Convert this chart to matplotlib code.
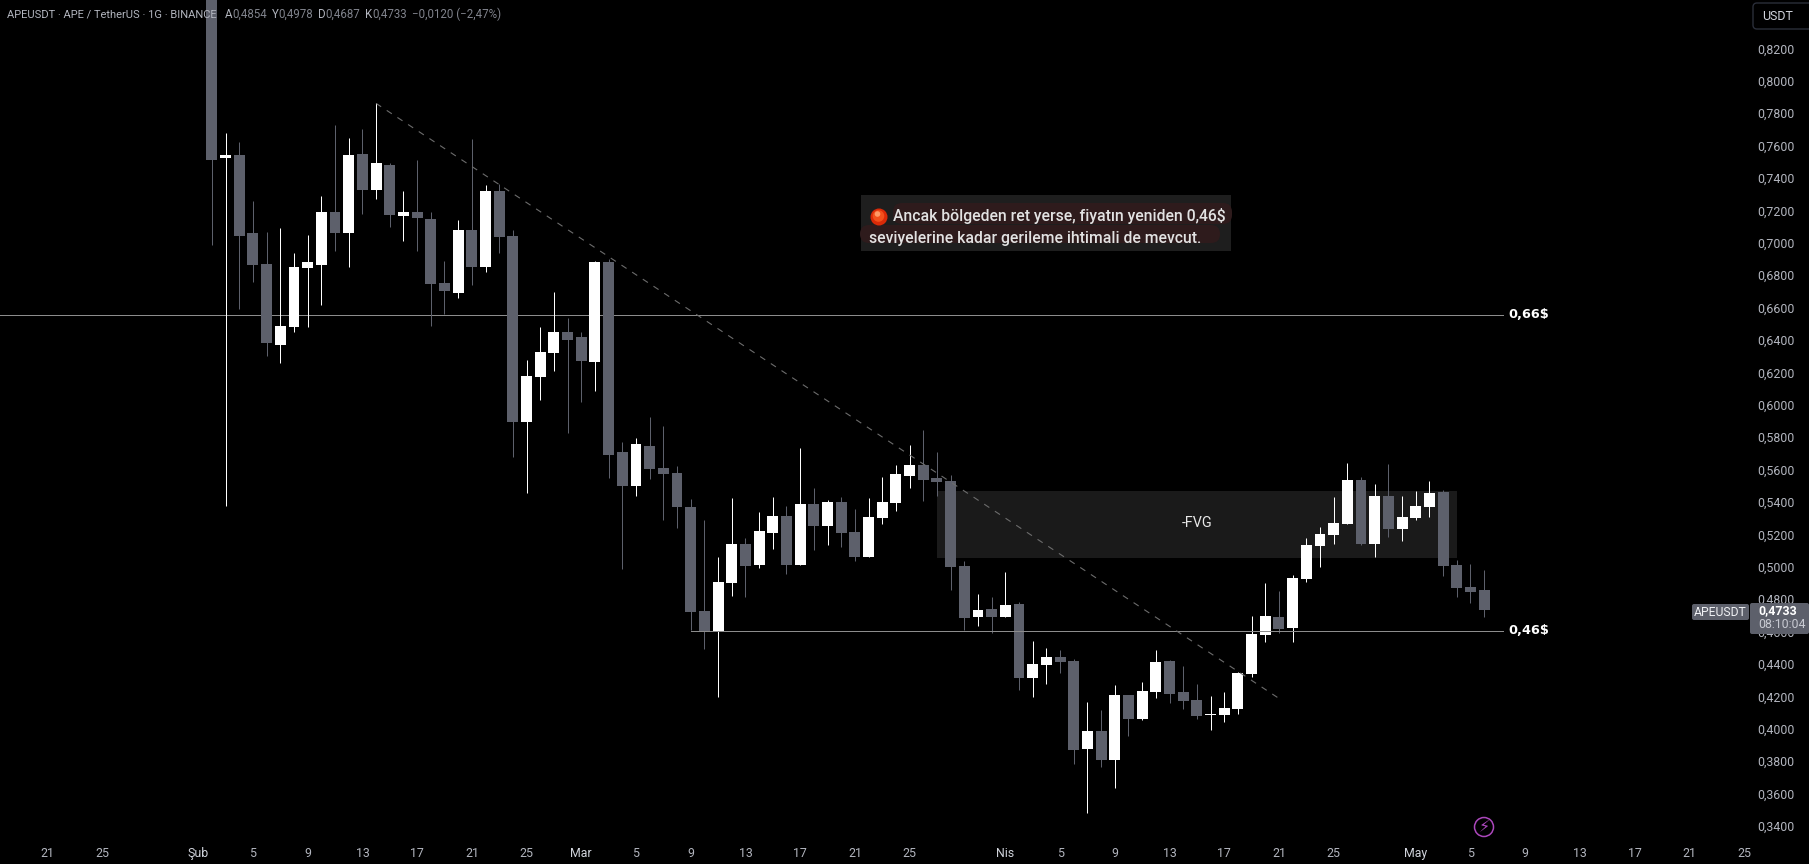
import matplotlib
matplotlib.use("Agg")
import matplotlib.pyplot as plt
from matplotlib.patches import Rectangle, FancyBboxPatch, Circle
from matplotlib.transforms import IdentityTransform, ScaledTranslation
import numpy as np

W, H = 1809, 864
plt.rcParams['font.family'] = ['Roboto', 'DejaVu Sans']

# Daily candles from 2 Feb onward (price, USDT)
opens = [0.8750,.7523,.7541,.7060,.6868,.6368,.6480,.6844,.6862,.7189,.7060,.7547,.7325,.7479,.7165,.7189,
         .7146,.6751,.6689,.7078,.6850,.7319,.7041,.5893,.6171,.6319,.6449,.6418,.6263,.6881,.5708,.5498,
         .5745,.5610,.5579,.5369,.4727,.4603,.4900,.5140,.5011,.5208,.5313,.5011,.5387,.5252,.5400,.5215,
         .5060,.5301,.5394,.5560,.5628,.5548,.5529,.5005,.4690,.4739,.4690,.4770,.4313,.4393,.4443,.4418,
         .3875,.3986,.3807,.4208,.4060,.4226,.4418,.4226,.4177,.4084,.4084,.4122,.4338,.4578,.4689,.4622,
         .4924,.5128,.5196,.5263,.5535,.5140,.5436,.5233,.5301,.5368,.5461,.5010,.4875,.4854]
highs = [0.8900,.7675,.7619,.7257,.7064,.7089,.6934,.7047,.7288,.7724,.7646,.7700,.7860,.7490,.7319,.7510,
         .7189,.6887,.7140,.7638,.7356,.7362,.7078,.6276,.6480,.6696,.6535,.6449,.6887,.6897,.5770,.5795,
         .5924,.5869,.5622,.5418,.5289,.5060,.5424,.5178,.5338,.5431,.5375,.5733,.5486,.5412,.5431,.5357,
         .5424,.5554,.5628,.5752,.5844,.5708,.5566,.5036,.4832,.4813,.4968,.4782,.4542,.4498,.4486,.4428,
         .4165,.4115,.4270,.4208,.4288,.4486,.4424,.4387,.4276,.4202,.4226,.4350,.4696,.4899,.4850,.4949,
         .5177,.5245,.5430,.5640,.5554,.5510,.5634,.5436,.5467,.5529,.5473,.5041,.5017,.4978]
lows =  [0.6986,.5377,.6591,.6757,.6300,.6257,.6449,.6480,.6615,.6949,.6850,.7177,.7270,.7097,.7010,.6949,
         .6486,.6560,.6659,.6739,.6819,.6936,.5677,.5455,.6029,.6208,.5825,.6017,.6084,.5547,.4986,.5437,
         .5542,.5289,.5239,.4610,.4492,.4196,.4819,.4813,.4992,.5110,.4955,.5011,.5103,.5134,.5122,.5036,
         .5060,.5264,.5344,.5486,.5406,.5437,.4857,.4610,.4634,.4591,.4690,.4239,.4196,.4276,.4344,.3782,
         .3480,.3764,.3634,.3955,.4054,.4189,.4159,.4122,.4060,.3992,.4041,.4091,.4319,.4535,.4591,.4535,
         .4905,.4998,.5140,.5263,.5134,.5060,.5183,.5159,.5288,.5307,.4942,.4813,.4776,.4687]
closes =[.7510,.7541,.7041,.6862,.6381,.6486,.6850,.6881,.7189,.7060,.7541,.7325,.7492,.7171,.7189,.7152,
         .6745,.6702,.7078,.6850,.7319,.7035,.5893,.6177,.6325,.6449,.6399,.6270,.6881,.5690,.5498,.5758,
         .5603,.5573,.5369,.4721,.4603,.4906,.5140,.5005,.5221,.5313,.5011,.5387,.5252,.5400,.5208,.5060,
         .5307,.5400,.5573,.5628,.5536,.5523,.4999,.4684,.4733,.4690,.4764,.4313,.4400,.4443,.4412,.3868,
         .3986,.3807,.4208,.4060,.4233,.4412,.4214,.4171,.4078,.4091,.4128,.4344,.4584,.4696,.4615,.4930,
         .5134,.5202,.5270,.5535,.5140,.5436,.5233,.5307,.5375,.5455,.5004,.4868,.4844,.4733]

x_tick_pos = [-12,-8,-1,3,7,11,15,19,23,27,31,35,39,43,47,51,58,62,66,70,74,78,82,88,92,96,100,104,108,112]
x_tick_lab = ['21','25','Şub','5','9','13','17','21','25','Mar','5','9','13','17','21','25','Nis','5','9','13',
              '17','21','25','May','5','9','13','17','21','25']
month_labels = ['Şub','Mar','Nis','May']
y_ticks = [.34,.36,.38,.40,.42,.44,.46,.48,.50,.52,.54,.56,.58,.60,.62,.64,.66,.68,.70,.72,.74,.76,.78,.80,.82]

level_high = 0.6552
level_low = 0.4601
fvg_top, fvg_bottom = 0.5467, 0.5054
fvg_start, fvg_end = 53, 91
trend_x = [12, 78]
trend_y = [0.7860, 0.4187]

UP, DOWN = '#ffffff', '#5d606b'
AXTXT = '#b2b5be'

def fx(p): return p / W
def fy(p): return 1 - p / H

fig = plt.figure(figsize=(W/100, H/100), dpi=100, facecolor='#000000')
R_PX, B_PX = 1750, 838
ax = fig.add_axes([0, fy(B_PX), fx(R_PX), 1 - fy(B_PX)], facecolor='#000000')

X0, DX = 211.9, 13.68
ax.set_xlim(-X0/DX, (R_PX - X0)/DX)
ax.set_ylim(0.5 + (566.7 - B_PX)/1620, 0.5 + 566.7/1620)

o, h, l, c = map(np.array, (opens, highs, lows, closes))
idx = np.arange(len(o))
cols = [UP if ci >= oi else DOWN for oi, ci in zip(o, c)]

ax.add_patch(Rectangle((fvg_start, fvg_bottom), fvg_end - fvg_start, fvg_top - fvg_bottom,
                       fc='#1a1a1a', ec='none', zorder=1))
ax.text((fvg_start + fvg_end)/2, 0.5267, '-FVG', color='#e8e8e8', fontsize=10.4, ha='center', va='center', zorder=6)

ax.vlines(idx, l, h, colors=cols, lw=0.72, zorder=3)
ax.bar(idx, np.maximum(np.abs(c - o), 0.0004), bottom=np.minimum(o, c), width=0.8, color=cols, lw=0, zorder=4)

ax.plot([ax.get_xlim()[0], 97.9], [level_high, level_high], color='#8c8c8c', lw=0.72, zorder=2)
ax.plot([35, 97.9], [level_low, level_low], color='#8c8c8c', lw=0.72, zorder=5)
for lv, s in ((level_high, '0,66$'), (level_low, '0,46$')):
    ax.text(96.25, lv + 0.0006, s, color='#ffffff', fontsize=9.3, fontweight='bold', ha='center', va='center', zorder=6,
            fontfamily=['DejaVu Sans'], bbox=dict(fc='#000000', ec='none', pad=3))

ax.plot(trend_x, trend_y, color='#6c6c6c', lw=0.8, dashes=(5.5, 6), zorder=5)

ax.yaxis.tick_right()
ax.set_yticks(y_ticks)
ax.set_yticklabels([f'{v:.4f}'.replace('.', ',') for v in y_ticks], fontsize=8.9, color=AXTXT, va='center_baseline')
up_shift = ScaledTranslation(0, 1/100, fig.dpi_scale_trans)
for t in ax.get_yticklabels():
    t.set_transform(t.get_transform() + up_shift)
ax.set_xticks(x_tick_pos)
ax.set_xticklabels(x_tick_lab, fontsize=8.9, color=AXTXT)
for t in ax.get_xticklabels():
    if t.get_text() in month_labels:
        t.set_color('#d1d4dc')
ax.tick_params(axis='y', length=0, pad=5.0)
ax.tick_params(axis='x', length=0, pad=6.5)
for s in ax.spines.values():
    s.set_visible(False)

hdr = '#b2b5be'
val = '#80838c'
y_h = 14
fig.text(fx(7), fy(y_h), 'APEUSDT · APE / TetherUS · 1G · BINANCE', color=hdr, fontsize=8.05, va='center')
for xa, xv, a, v in ((225, 232, 'A', '0,4854'), (272, 278, 'Y', '0,4978'), (318, 325, 'D', '0,4687'), (365, 372, 'K', '0,4733')):
    fig.text(fx(xa), fy(y_h), a, color=hdr, fontsize=8.3, va='center')
    fig.text(fx(xv), fy(y_h), v, color=val, fontsize=8.3, va='center')
fig.text(fx(412), fy(y_h), '−0,0120 (−2,47%)', color=val, fontsize=8.3, va='center')

def pxbox(x0, y0, x1, y1, fc, ec='none', rad=0, lw=0, z=1):
    p = FancyBboxPatch((x0, H - y1), x1 - x0, y1 - y0, boxstyle=f'round,pad=0,rounding_size={rad}',
                       fc=fc, ec=ec, lw=lw, zorder=z)
    fig.add_artist(p)
    p.set_transform(IdentityTransform())
    return p

pxbox(861, 195, 1231, 251, '#1e1e1e', z=1)
pxbox(893, 203, 1232, 224, '#2e1b1c', rad=9, z=1.1)
pxbox(860, 225, 1220, 243, '#2e1b1c', rad=9, z=1.1)
fig.text(fx(893), fy(216.5), 'Ancak bölgeden ret yerse, fiyatın yeniden 0,46$', color='#e2e2e2', fontsize=11.3, fontweight='medium', va='center')
fig.text(fx(869), fy(238), 'seviyelerine kadar gerileme ihtimali de mevcut.', color='#e2e2e2', fontsize=11.3, fontweight='medium', va='center')
for r, col, dx, dy in ((8.5, '#d92a08', 0, 0), (5.8, '#f2501c', -0.5, -1), (2.8, '#ff9a66', -1.5, -3)):
    circ = Circle((879 + dx, H - 217 - dy), r, fc=col, ec='none', zorder=2)
    fig.add_artist(circ)
    circ.set_transform(IdentityTransform())

pxbox(1692, 604, 1749, 620, '#5d606b', rad=2, z=2)
pxbox(1750, 603, 1809, 634, '#5d606b', rad=2, z=2)
fig.text(fx(1720.5), fy(612), 'APEUSDT', color='#f0f1f4', fontsize=8.7, ha='center', va='center')
fig.text(fx(1758), fy(611), '0,4733', color='#ffffff', fontsize=8.9, fontweight='bold', va='center')
fig.text(fx(1758), fy(625), '08:10:04', color='#c8cad2', fontsize=8.9, va='center')

pxbox(1753, 3, 1815, 29, '#000000', ec='#2a2e39', rad=4, lw=1, z=2)
fig.text(fx(1762), fy(16.5), 'USDT', color='#d1d4dc', fontsize=8.9, va='center')

circ = Circle((1484, H - 827), 9.5, fc='none', ec='#ab47bc', lw=1.1, zorder=2)
fig.add_artist(circ)
circ.set_transform(IdentityTransform())
fig.text(fx(1484), fy(827), '⚡', color='#ab47bc', fontsize=11.5, fontfamily=['DejaVu Sans'], ha='center', va='center')

fig.savefig('out.png', dpi=100, facecolor=fig.get_facecolor())
